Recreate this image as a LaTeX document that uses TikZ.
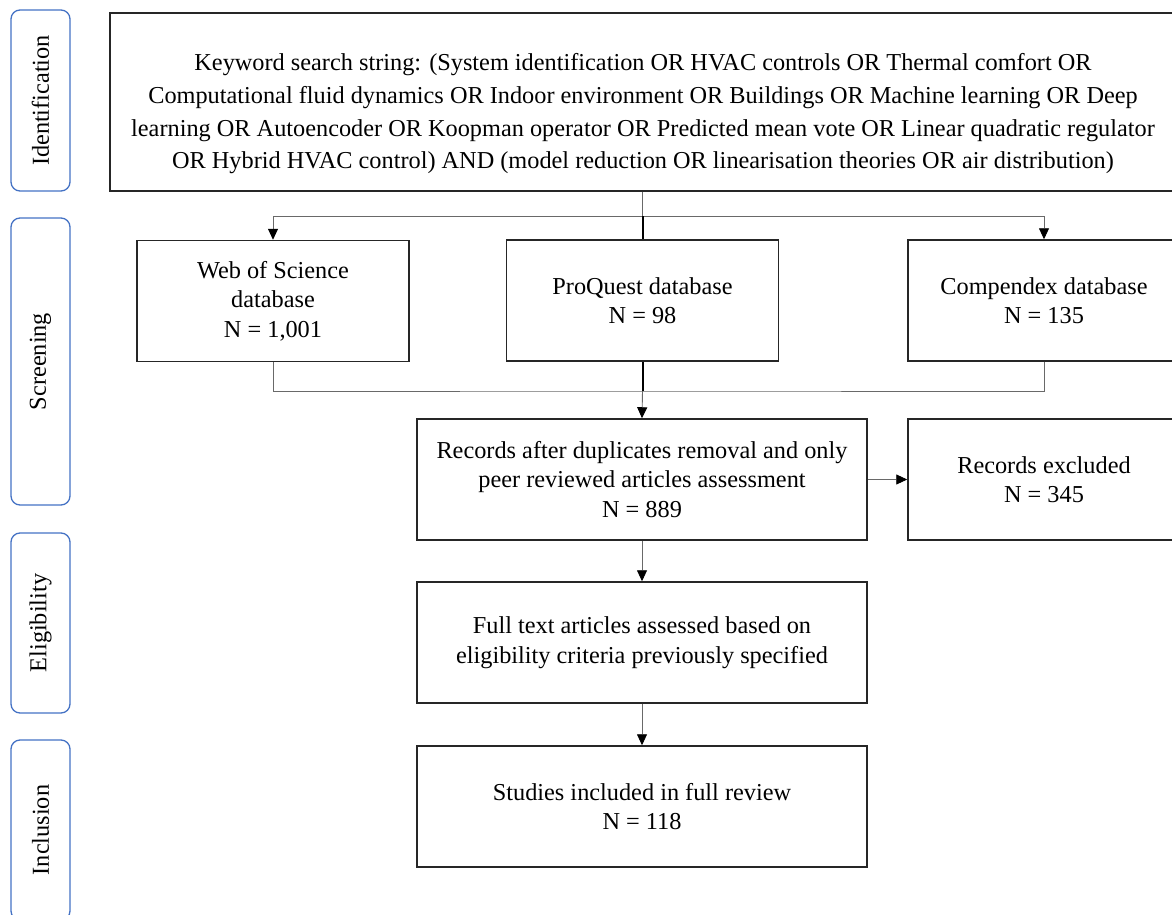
\documentclass[tikz,border=0pt]{standalone}
\usepackage{fontspec}
\setmainfont{Liberation Serif}
\usetikzlibrary{arrows.meta}

\definecolor{stageblue}{RGB}{68,114,196}
\definecolor{linkgray}{RGB}{105,105,105}

\tikzset{
  stage/.style={draw=stageblue, line width=1.3pt, rounded corners=9pt, rotate=90,
    minimum height=59pt, inner sep=0pt, font=\fontsize{24.3}{26}\selectfont},
  flowbox/.style={draw=black!85, line width=1.5pt, minimum width=272pt, minimum height=121pt,
    align=center, inner sep=0pt, font=\fontsize{24.3}{29.5}\selectfont},
  searchtext/.style={align=center, inner sep=0pt, font=\fontsize{24.3}{32.7}\selectfont},
  link/.style={draw=linkgray, line width=0.9pt},
  trunk/.style={draw=black, line width=2pt},
  tip/.style={-{Triangle[length=11pt,width=10pt,color=black]}},
}

\begin{document}
\begin{tikzpicture}[x=1pt,y=-1pt]
\useasboundingbox (0,0) rectangle (1172,915);
\clip (0,0) rectangle (1172,915);

%Stage labels
\node[stage, minimum width=181pt] (ident) at (40.5,100.5) {Identification};
\node[stage, minimum width=287pt] (screen) at (40.5,361.5) {Screening};
\node[stage, minimum width=180pt] (elig) at (40.5,623) {Eligibility};
\node[stage, minimum width=180pt] (incl) at (40.5,830) {Inclusion};

%Search box
\node[flowbox, minimum width=1066pt, minimum height=178pt] (search) at (643,102) {};
\node[searchtext] (searchtext) at ([yshift=-12pt]search.center)
  {Keyword search string: (System identification OR HVAC controls OR Thermal comfort OR\\
   Computational fluid dynamics OR Indoor environment OR Buildings OR Machine learning OR Deep\\
   learning OR Autoencoder OR Koopman operator OR Predicted mean vote OR Linear quadratic regulator\\
   OR Hybrid HVAC control) AND (model reduction OR linearisation theories OR air distribution)};

%Databases
\node[flowbox] (wos) at (273,301) {Web of Science\\database\\N = 1,001};
\node[flowbox] (proquest) at (642.5,300.5) {ProQuest database\\N = 98};
\node[flowbox] (compendex) at (1044,300.5) {Compendex database\\N = 135};

%Records
\node[flowbox, minimum width=450pt] (records) at (642,479.5)
  {Records after duplicates removal and only\\peer reviewed articles assessment\\N = 889};
\node[flowbox] (excluded) at (1044,479.5) {Records excluded\\N = 345};
\node[flowbox, minimum width=450pt] (fulltext) at (642,642.5)
  {Full text articles assessed based on\\eligibility criteria previously specified};
\node[flowbox, minimum width=450pt] (studies) at (642,806.5)
  {Studies included in full review\\N = 118};

%Connectors
\coordinate (split) at (642.5,216);
\coordinate (merge) at (642.5,391);
\draw[link] (search.south -| split) -- (split);
\draw[link, tip] (split) -| (wos.north);
\draw[link, tip] (split) -| (compendex.north);
\draw[trunk] (split) -- (proquest.north);
\draw[link] (wos.south) |- (merge) -| (compendex.south);
\draw[trunk] (proquest.south) -- (merge);
\draw[link, tip] (merge) -- (records.north);
\draw[link, tip] (records.east) -- (excluded.west);
\draw[link, tip] (records.south) -- (fulltext.north);
\draw[link, tip] (fulltext.south) -- (studies.north);

\end{tikzpicture}
\end{document}
